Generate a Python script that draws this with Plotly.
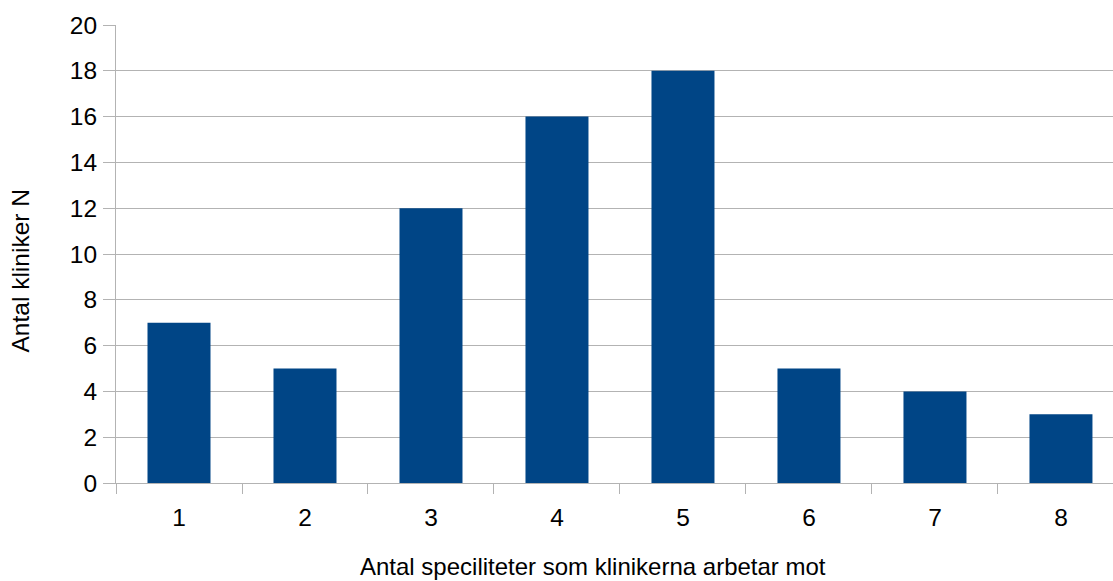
import plotly.graph_objects as go

categories = [1, 2, 3, 4, 5, 6, 7, 8]
values = [7, 5, 12, 16, 18, 5, 4, 3]
y_ticks = [0, 2, 4, 6, 8, 10, 12, 14, 16, 18, 20]
x_title = "Antal speciliteter som klinikerna arbetar mot"
y_title = "Antal kliniker N"

boundaries = [c - 0.5 for c in categories]

grid = "#b3b3b3"
font = "Liberation Sans, Arial, sans-serif"

fig = go.Figure(go.Bar(x=categories, y=values, width=0.5,
                       marker=dict(color="#004586", line=dict(width=0))))

fig.update_layout(
    width=1113, height=581,
    margin=dict(l=116, r=0, t=25, b=98),
    paper_bgcolor="white", plot_bgcolor="white",
    font=dict(family=font, color="black"),
    showlegend=False,
    xaxis=dict(
        range=[0.5, 8.413], automargin=False,
        tickmode="array", tickvals=categories, ticktext=[str(c) for c in categories],
        ticks="", tickfont=dict(size=24.5), ticklabelstandoff=13,
        showgrid=False, zeroline=False,
        showline=True, linecolor=grid, linewidth=1,
        minor=dict(tickmode="array", tickvals=boundaries, ticks="outside",
                   ticklen=10, tickcolor=grid, tickwidth=1, showgrid=False),
    ),
    yaxis=dict(
        range=[0, 20], automargin=False,
        tickmode="array", tickvals=y_ticks,
        ticks="outside", ticklen=12, tickcolor=grid, tickwidth=1,
        tickfont=dict(size=24.5), ticklabelstandoff=1,
        showgrid=True, gridcolor=grid, gridwidth=1,
        zeroline=False,
        showline=True, linecolor=grid, linewidth=1,
    ),
    annotations=[
        dict(text=x_title, xref="paper", yref="paper", x=0.478, y=-0.183,
             xanchor="center", yanchor="middle", showarrow=False,
             font=dict(size=24)),
        dict(text=y_title, xref="paper", yref="paper", x=-0.0948, y=0.4629,
             xanchor="center", yanchor="middle", showarrow=False, textangle=-90,
             font=dict(size=24.5)),
    ],
)

fig.write_html("out.html", config={"displayModeBar": False},
               post_script="document.body.style.margin='0';")
